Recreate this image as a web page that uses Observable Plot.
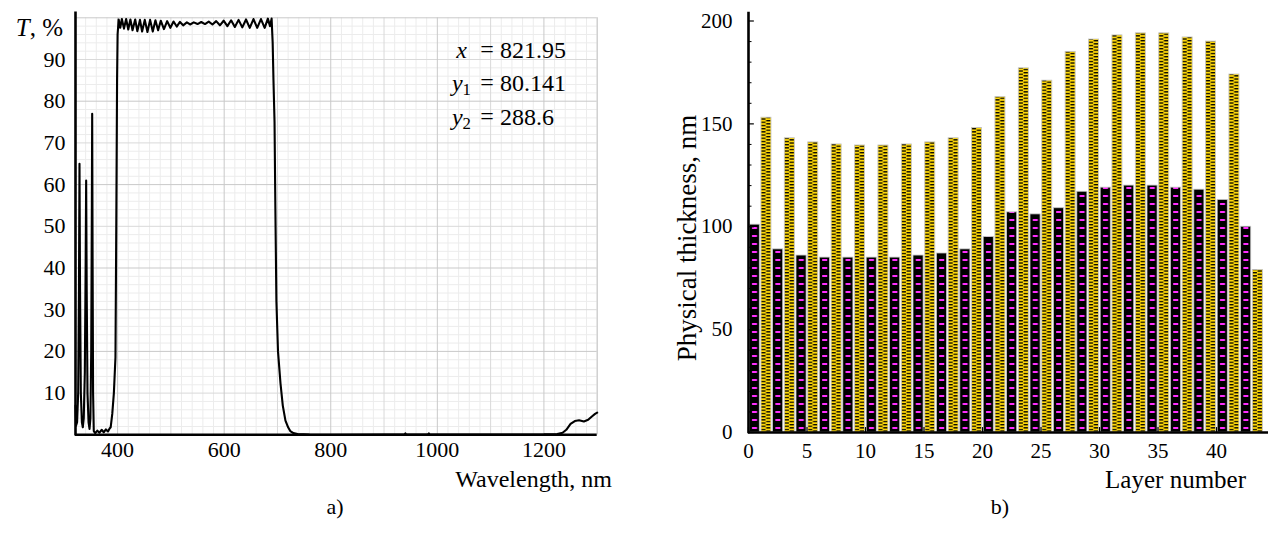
<!DOCTYPE html>
<html>
<head>
<meta charset="utf-8">
<script src="https://cdn.jsdelivr.net/npm/d3@7"></script>
<script src="https://cdn.jsdelivr.net/npm/@observablehq/plot@0.6"></script>
<style>
  html, body { margin: 0; padding: 0; background: #fff; }
  #wrap { position: relative; width: 1279px; height: 534px; overflow: hidden; background: #fff;
          font-family: "Liberation Serif", "Times New Roman", serif; font-size: 21px; color: #000; }
  .panel { position: absolute; top: 0; }
  .t { position: absolute; white-space: nowrap; line-height: 1; }
  .t sub { font-size: 0.7em; vertical-align: -0.25em; line-height: 0; }
</style>
</head>
<body>
<div id="wrap"></div>
<script>
// ---------- Panel a) : transmission spectrum ----------
const wavelength = [
  321, 322, 324, 326, 327.5, 328.5, 329.5, 331, 333, 334.7, 336.5, 338.5, 340, 341, 342, 343.5, 345.5, 347.3,
  349, 350.5, 351.7, 352.3, 353, 354, 355.3, 358, 362, 366, 370, 374, 378, 382, 385, 387, 390, 393, 396,
  397.5, 399, 400,
  402, 405, 408, 412, 416, 420, 424, 428, 433, 437, 442, 446, 451, 456, 461, 466, 471, 476, 481, 487,
  493, 499, 505, 511, 517, 523, 530, 536, 543, 550, 557, 564, 571, 578, 585, 592, 599, 606, 613, 620,
  627, 634, 641, 648, 655, 662, 669, 676, 682, 686, 689,
  691, 692.5, 694.5, 696, 698, 701, 705.7, 710, 715, 720, 724, 730, 738, 760, 800, 900, 938, 940, 942,
  982, 984, 986, 1100, 1200, 1225, 1235, 1242, 1250, 1258, 1266, 1275, 1283, 1290, 1296, 1300
];
const transmission = [
  7, 2.2, 3, 10, 35, 65, 35, 10, 3, 1.8, 4, 15, 40, 61, 35, 10, 3, 1.4,
  4, 20, 55, 77, 45, 10, 0.9, 0.4, 1.0, 0.5, 1.2, 0.6, 1.3, 0.8, 1.5, 1.8, 5, 10, 18.6,
  50, 85, 96,
  99.6, 97.6, 99.7, 97.4, 99.7, 97.2, 99.6, 97.0, 99.6, 96.8, 99.5, 96.7, 99.5, 96.6, 99.5, 96.7, 99.4, 97.0, 99.3, 97.3,
  99.2, 97.6, 99.1, 97.9, 99.0, 98.2, 98.9, 98.4, 98.9, 98.5, 99.0, 98.5, 99.1, 98.4, 99.2, 98.2, 99.3, 98.0, 99.4, 97.8,
  99.5, 97.7, 99.6, 97.6, 99.7, 97.6, 99.7, 97.6, 99.8, 98.0, 99.8,
  94, 85, 75, 55, 32, 20, 12.3, 7, 3.4, 1.8, 0.9, 0.4, 0.2, 0.05, 0, 0.05, 0.05, 0.35, 0.05,
  0.05, 0.35, 0.05, 0.05, 0.1, 0.2, 0.5, 1.2, 2.6, 3.3, 3.5, 3.2, 3.6, 4.4, 5.0, 5.3
];
const xTicksA = [400, 600, 800, 1000, 1200];
const yTicksA = [10, 20, 30, 40, 50, 60, 70, 80, 90];
const xDomainA = [321, 1300];
const yDomainA = [0, 100];

// ---------- Panel b) : layer thicknesses ----------
const layerNumber = [1,2,3,4,5,6,7,8,9,10,11,12,13,14,15,16,17,18,19,20,21,22,
                     23,24,25,26,27,28,29,30,31,32,33,34,35,36,37,38,39,40,41,42,43,44];
const layerMaterial = ["H","L","H","L","H","L","H","L","H","L","H","L","H","L","H","L","H","L","H","L","H","L",
                       "H","L","H","L","H","L","H","L","H","L","H","L","H","L","H","L","H","L","H","L","H","L"];
const thickness = [101, 153, 89, 143, 86, 141, 85, 140, 85, 139.5, 85, 139.5, 85, 140, 86, 141, 87, 143, 89, 148, 95, 163,
                   107, 177, 106, 171, 109, 185, 117, 191, 119, 193, 120, 194, 120, 194, 119, 192, 118, 190, 113, 174, 100, 79];
const xTicksB = [0, 5, 10, 15, 20, 25, 30, 35, 40];
const yTicksB = [0, 50, 100, 150, 200];
const yMinorB = [10, 20, 30, 40, 60, 70, 80, 90, 110, 120, 130, 140, 160, 170, 180, 190];

const spectrum = wavelength.map((w, i) => ({w, t: transmission[i]}));
const layers = layerNumber.map((n, i) => ({n, m: layerMaterial[i], h: thickness[i]}));

const fontA = {fontFamily: "'Liberation Serif', 'Times New Roman', serif", fontSize: "22px", color: "#000", background: "transparent", overflow: "visible"};
const fontB = {fontFamily: "'Liberation Serif', 'Times New Roman', serif", fontSize: "21px", color: "#000", background: "transparent", overflow: "visible"};

const gridMinorX = d3.range(340, 1300, 20).filter(v => v % 100 !== 0);
const gridMidX = d3.range(400, 1301, 100).filter(v => v % 200 !== 0);
const gridMajorX = d3.range(400, 1301, 200);
const gridMinorY = d3.range(2, 100, 2).filter(v => v % 10 !== 0);
const gridMidY = [10, 30, 50, 70, 90];
const gridMajorY = [20, 40, 60, 80, 100];

const left = Plot.plot({
  width: 620, height: 534,
  marginLeft: 75, marginRight: 23.3, marginTop: 17.3, marginBottom: 99.7,
  x: {domain: xDomainA},
  y: {domain: yDomainA},
  style: fontA,
  marks: [
    Plot.ruleX(gridMinorX, {stroke: "#ececec", strokeWidth: 1}),
    Plot.ruleY(gridMinorY, {stroke: "#ececec", strokeWidth: 1}),
    Plot.ruleX(gridMidX, {stroke: "#d9d9d9", strokeWidth: 1}),
    Plot.ruleY(gridMidY, {stroke: "#d9d9d9", strokeWidth: 1}),
    Plot.ruleX(gridMajorX.concat([1300]), {stroke: "#c9c9c9", strokeWidth: 1}),
    Plot.ruleY(gridMajorY, {stroke: "#c9c9c9", strokeWidth: 1}),
    Plot.line(spectrum, {x: "w", y: "t", stroke: "#000", strokeWidth: 2.1, strokeLinejoin: "round"}),
    Plot.ruleX([xDomainA[0]], {y1: -0.3, y2: 101.4, stroke: "#000", strokeWidth: 2.6}),
    Plot.ruleY([0], {x1: xDomainA[0], x2: xDomainA[1], stroke: "#000", strokeWidth: 2.6}),
    Plot.axisX({ticks: xTicksA, tickSize: 0, tickPadding: 7, label: null, tickFormat: d => String(d)}),
    Plot.axisY({ticks: yTicksA, tickSize: 0, tickPadding: 10, label: null, tickFormat: d => String(d)})
  ]
});

const right = Plot.plot({
  width: 659, height: 534,
  marginLeft: 128, marginRight: 11, marginTop: 20.5, marginBottom: 102,
  x: {domain: [0, 44.444]},
  y: {domain: [0, 200]},
  style: fontB,
  marks: [
    Plot.rect(layers.filter(d => d.m === "H"), {x1: d => d.n - 1, x2: "n", y1: 0, y2: "h",
      fill: "url(#padH)", stroke: "#c4c4c4", strokeWidth: 0.8, insetLeft: 1.2, insetRight: 0.4}),
    Plot.rect(layers.filter(d => d.m === "L"), {x1: d => d.n - 1, x2: "n", y1: 0, y2: "h",
      fill: "url(#padL)", stroke: "#c4c4c4", strokeWidth: 0.8, insetLeft: 1.2, insetRight: 0.4}),
    Plot.ruleY(yTicksB, {x1: 0, x2: 0.5, stroke: "#000", strokeWidth: 1.2}),
    Plot.ruleY(yMinorB, {x1: 0, x2: 0.3, stroke: "#000", strokeWidth: 1}),
    Plot.ruleX(xTicksB, {y1: 0, y2: 2.4, stroke: "#000", strokeWidth: 1.2}),
    Plot.ruleX([0], {y1: -0.6, y2: 204.3, stroke: "#000", strokeWidth: 2.6}),
    Plot.ruleY([0], {x1: 0, x2: 44.444, stroke: "#000", strokeWidth: 2.6}),
    Plot.axisX({ticks: xTicksB, tickSize: 0, tickPadding: 11, label: null, tickFormat: d => String(d)}),
    Plot.axisY({ticks: yTicksB, tickSize: 0, tickPadding: 16, label: null, tickFormat: d => String(d)})
  ]
});

// fill patterns for the bars
d3.select(right).insert("defs", ":first-child").html(`
  <pattern id="padH" patternUnits="userSpaceOnUse" x="128" y="0" width="23.4" height="8">
    <rect width="23.4" height="8" fill="#000"/>
    <rect x="4" y="3" width="5" height="2" fill="#ff2eff"/>
  </pattern>
  <pattern id="padL" patternUnits="userSpaceOnUse" x="139.7" y="0" width="23.4" height="3.2">
    <rect width="23.4" height="3.2" fill="#ffd808"/>
    <rect x="1.4" y="0" width="4.4" height="1.3" fill="#000"/>
    <rect x="6.4" y="1.6" width="4.4" height="1.3" fill="#000"/>
  </pattern>`);

const wrap = document.getElementById("wrap");
const pa = document.createElement("div"); pa.className = "panel"; pa.style.left = "0px"; pa.appendChild(left);
const pb = document.createElement("div"); pb.className = "panel"; pb.style.left = "620px"; pb.appendChild(right);
wrap.appendChild(pa); wrap.appendChild(pb);

function place(html, x, y, anchor, size, rotate) {
  const el = document.createElement("div");
  el.className = "t";
  el.innerHTML = html;
  el.style.left = x + "px";
  el.style.top = y + "px";
  el.style.fontSize = size + "px";
  const tx = anchor === "right" ? "-100%" : anchor === "center" ? "-50%" : "0";
  el.style.transform = `translate(${tx}, -50%)` + (rotate ? ` rotate(${rotate}deg)` : "");
  wrap.appendChild(el);
}

// panel a texts
place("<i>T</i>, %", 63, 27, "right", 25);
place("<i>x</i>", 467, 50, "right", 24);
place("=", 487, 49, "center", 24);
place("821.95", 500, 50, "left", 24);
place("<i>y</i><sub>1</sub>", 471, 83.3, "right", 24);
place("=", 487, 82.3, "center", 24);
place("80.141", 500, 83.3, "left", 24);
place("<i>y</i><sub>2</sub>", 471, 116.7, "right", 24);
place("=", 487, 115.7, "center", 24);
place("288.6", 500, 116.7, "left", 24);
place("Wavelength, nm", 612, 479, "right", 24);
place("a)", 335, 507, "center", 22);

// panel b texts
place("Physical thickness, nm", 687, 238, "center", 27, -90);
place("Layer number", 1246, 479, "right", 25);
place("b)", 1000, 507, "center", 22);
</script>
</body>
</html>
